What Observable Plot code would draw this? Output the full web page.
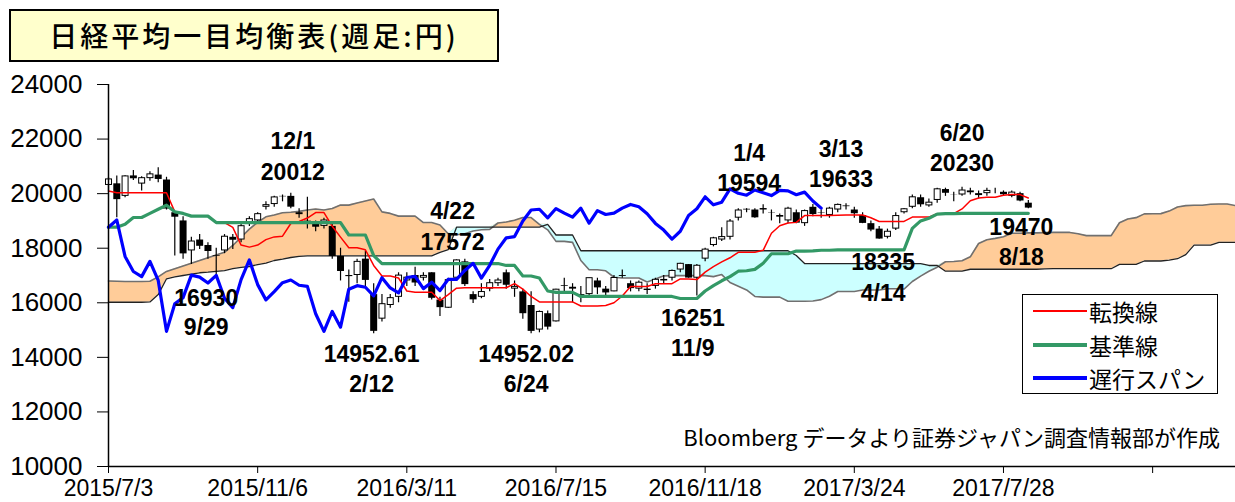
<!DOCTYPE html>
<html><head><meta charset="utf-8">
<script src="https://cdn.jsdelivr.net/npm/d3@7"></script>
<script src="https://cdn.jsdelivr.net/npm/@observablehq/plot@0.6"></script>
<style>
html,body{margin:0;padding:0;background:#fff;}
#wrap{position:relative;width:1235px;height:502px;overflow:hidden;}
#title{position:absolute;left:9px;top:9px;width:490px;height:53px;box-sizing:border-box;border:2px solid #000;background:#ffffcc;
 font-family:"Noto Sans CJK JP",sans-serif;font-weight:500;font-size:28px;line-height:48px;text-align:center;letter-spacing:3px;color:#000;}
#legend{position:absolute;left:1022px;top:294px;width:196px;height:100px;box-sizing:border-box;border:1.5px solid #000;background:#fff;
 font-family:"Noto Sans CJK JP",sans-serif;font-size:23px;color:#000;}
#legend .row{position:absolute;left:10px;height:30px;display:flex;align-items:center;}
#legend .sw{display:inline-block;width:54px;margin-right:2px;}
#caption{position:absolute;right:15px;top:422px;font-family:"Noto Sans CJK JP",sans-serif;font-size:22px;line-height:28px;color:#000;white-space:nowrap;}
</style></head>
<body>
<div id="wrap">
<div id="chart"></div>
<div id="title">日経平均一目均衡表(週足:円)</div>
<div id="legend">
 <div class="row" style="top:1px"><span class="sw" style="border-top:2px solid #ff0000"></span>転換線</div>
 <div class="row" style="top:35px"><span class="sw" style="border-top:4px solid #339966"></span>基準線</div>
 <div class="row" style="top:68px"><span class="sw" style="border-top:4px solid #0000ff"></span>遅行スパン</div>
</div>
<div id="caption">Bloomberg データより証券ジャパン調査情報部が作成</div>
</div>
<script>
// ---- weekly candles (week ending Friday), from 2015/7/3 ----
const opens = [20300,20360,19900,20650,20350,20550,20680,20500,19300,19000,
17900,18300,18100,17700,17900,18400,18300,18900,19000,19500,
19600,19900,19900,19300,19000,18900,18800,18800,17700,17000,
17000,17600,16300,15400,15900,16200,16800,17000,16900,17100,
16100,15800,16900,17500,16300,16200,16500,16700,17100,16500,
16400,15900,15000,15600,15300,16600,16500,16300,16300,16800,
16500,16400,17000,16700,16500,16500,16600,16800,16900,17200,
17400,16900,17600,18100,18300,18400,19100,19400,19400,19400,
19300,19200,19000,19300,18900,19500,19300,19200,19400,19550,
19400,19200,18900,18700,18400,18700,19300,19500,19850,19550,
19750,20150,19950,19950,20100,20000,20000,20100,20050,19900,
20000,19650];
const highs = [20600,20650,20660,20850,20620,20800,20950,20600,19300,19150,
18400,18500,18200,18000,18500,18500,18900,19150,19300,19700,
19900,19950,20012,19450,19870,19000,19100,18950,18000,17200,
17600,17900,16700,16300,16300,17100,17100,17300,17100,17100,
16200,16900,17572,17600,16400,16700,16850,16900,17200,16800,
16500,16400,15700,15700,16500,16900,16700,16600,16900,16900,
16600,17000,17200,16800,16800,16700,16900,17000,17200,17450,
17400,17400,18000,18400,18750,19050,19450,19450,19450,19594,
19400,19250,19500,19400,19400,19600,19400,19500,19620,19633,
19500,19300,19000,18800,18700,19300,19450,19950,19950,19800,
20200,20200,20050,20230,20200,20100,20200,20200,20100,20100,
20050,19750];
const lows = [20090,19115,19850,20480,20100,20450,20400,19400,17714,17600,
17400,17950,17600,16930,17800,17950,18200,18800,18900,19400,
19500,19700,19450,19100,18700,18600,18700,17600,16800,16017,
16700,16600,14865,15300,15800,16000,16600,16600,16800,16100,
15500,15800,16800,16600,15975,16150,16400,16600,16500,16200,
15400,14864,14900,15000,15300,16400,16000,16000,16200,16300,
16200,16400,16900,16400,16400,16300,16500,16700,16800,17100,
16900,16251,17500,18050,18250,18300,19000,19300,19100,19250,
19000,18900,18900,18900,18800,19150,19100,19100,19300,19400,
19100,18900,18600,18330,18340,18650,19250,19450,19500,19500,
19650,19900,19700,19900,19950,19800,19900,20000,19900,19850,
19700,19450];
const closes = [20540,19780,20650,20545,20585,20725,20520,19436,19136,17792,
18264,18070,17880,17725,18439,18292,18825,19083,19266,19597,
19880,19884,19504,19230,18987,18769,19034,17698,17147,16959,
17518,16820,14953,15967,16188,17015,16939,16725,17003,16164,
15822,16848,17572,16666,16107,16412,16736,16835,16642,16601,
15600,14952,15682,15107,16498,16627,16569,16254,16920,16546,
16361,16926,16966,16519,16754,16450,16860,16856,17185,17446,
16905,17375,17967,18381,18426,18996,19401,19428,19114,19454,
19287,19138,19467,18918,19379,19235,19284,19469,19605,19522,
19263,18909,18665,18336,18621,19197,19446,19884,19591,19687,
20177,20013,19943,20133,20033,19929,20119,20100,19960,20056,
19730,19470];
// ---- 転換線 / 基準線 (one value per candle week) ----
const tenkan = [20100,20034,20034,20034,20034,20034,20034,20034,19332,19275,
19175,19175,19175,18940,18940,18765,18115,18040,18115,18315,
18415,18440,18906,18981,19106,19306,19306,18806,18406,18015,
18015,17944,17368,16983,16983,16908,16433,16383,16383,16383,
16083,16300,16536,16550,16550,16550,16550,16550,16550,16700,
16500,16232,16032,16032,16032,16032,16032,15882,15882,15882,
15900,16000,16250,16600,16600,16600,16700,16700,16700,16875,
16875,16850,17125,17325,17500,17650,17850,17850,17850,17922,
18547,18822,18922,18947,19197,19197,19197,19197,19210,19216,
19216,19216,19116,18981,18981,18981,18981,19140,19140,19140,
19265,19265,19270,19440,19740,19840,19865,19865,19940,19965,
19965,19840];
const kijun = [18772,18772,18876,19126,19126,19276,19426,19576,19333,19276,
19176,19176,19176,18941,18941,18941,18941,18941,18941,18941,
18941,18941,18941,18941,18941,18941,18941,18941,18941,18484,
18484,18484,17732,17438,17438,17438,17438,17438,17438,17438,
17438,17438,17438,17438,17438,17438,17438,17438,17368,17368,
16983,16982,16907,16432,16382,16382,16382,16232,16232,16232,
16232,16232,16232,16232,16232,16232,16232,16232,16232,16157,
16157,16157,16432,16632,16807,16957,17157,17175,17225,17447,
17797,17797,17797,17897,17897,17900,17926,17926,17936,17942,
17942,17942,17942,17942,17942,17942,17942,18725,19000,19100,
19250,19265,19265,19280,19280,19280,19280,19280,19280,19280,
19280,19280];
// ---- 先行スパン1 / 先行スパン2 (137 weeks, through 2018/2/9) ----
const spanA = [16800,16790,16780,16780,16780,16790,16950,17150,17250,17350,
17450,17550,17650,17750,17850,18100,18400,18700,18950,19150,
19220,19300,19320,19350,19400,19436,19403,19455,19580,19580,
19655,19730,19805,19333,19276,19176,19176,19176,18941,18941,
18853,18528,18491,18528,18628,18678,18691,18924,18961,19024,
19124,19124,18874,18674,18250,18250,18214,17550,17211,17211,
17173,16936,16911,16911,16911,16761,16869,16987,16994,16994,
16994,16994,16994,16959,17034,16742,16607,16470,16232,16207,
16207,16207,16057,16057,16057,16066,16116,16241,16416,16416,
16416,16466,16466,16466,16516,16516,16504,16779,16979,17154,
17304,17504,17513,17538,17685,18172,18310,18360,18422,18547,
18549,18562,18562,18573,18579,18579,18579,18529,18462,18462,
18462,18462,18933,19070,19120,19258,19265,19268,19360,19510,
19560,19573,19573,19610,19623,19623,19560];
const spanB = [16020,16020,16020,16020,16020,16030,16300,16880,16950,17000,
17050,17100,17120,17150,17180,17250,17300,17330,17400,17450,
17550,17600,17660,17700,17720,17720,17720,17720,17720,17720,
17720,17720,17720,17720,17720,17720,17720,17720,17720,17720,
17850,17950,18772,18772,18772,18772,18772,18772,18772,18772,
18772,18772,18772,18876,18485,18485,18485,17908,17908,17908,
17908,17908,17908,17908,17908,17908,17908,17908,17908,17908,
17908,17908,17908,17908,17908,17908,17908,17908,17908,17908,
17908,17908,17908,17732,17438,17438,17438,17438,17438,17438,
17438,17438,17438,17438,17438,17438,17438,17438,17438,17367,
17367,17157,17157,17157,17229,17229,17229,17229,17229,17229,
17229,17229,17229,17242,17249,17249,17249,17249,17249,17249,
17249,17249,17407,17407,17407,17532,17532,17532,17565,17615,
17765,18115,18115,18115,18215,18215,18215];
// ---- axis ticks ----
const yTicks = [10000,12000,14000,16000,18000,20000,22000,24000];
const xTickWeeks = [0,18,36,54,72,90,108,126];
const xTickLabels = ["2015/7/3","2015/11/6","2016/3/11","2016/7/15","2016/11/18","2017/3/24","2017/7/28",""];
// ---- annotations: candle week, value, two text lines ----
const noteWeek = [22,13,32,51,42,71,79,89,93,103,111];
const noteValue = [20012,16930,14953,14952,17572,16251,19594,19633,18335,20230,19470];
const noteLine1 = ["12/1","16930","14952.61","14952.02","4/22","16251","1/4","3/13","18335","6/20","19470"];
const noteLine2 = ["20012","9/29","2/12","6/24","17572","11/9","19594","19633","4/14","20230","8/18"];
// label placement (px offsets from the anchor: dx, dy of first line, dy of second line)
const noteOffset = [[2,-52,-21],[-10,21,50],[-2,23,53],[-5,23,53],[-4,-48,-17],[-4,23,53],[-14,-51,-21],[-5,-54,-24],[4,24,55],[0,-54,-24],[-7,20,50]];

const W = d3.range(spanA.length).map(i => new Date(Date.UTC(2015, 6, 3 + 7 * i)));
const candles = opens.map((o, i) => ({date: W[i], o, h: highs[i], l: lows[i], c: closes[i]}));
const upBig = candles.filter(d => d.c > d.o && d.c - d.o > 80);
const cloud = spanA.map((a, i) => ({date: W[i], a, b: spanB[i]}));
const tenkanD = tenkan.map((v, i) => ({date: W[i], v}));
const kijunD = kijun.map((v, i) => ({date: W[i], v}));
const chikouD = closes.slice(25).map((v, k) => ({date: W[k], v}));
const tickMap = new Map(xTickWeeks.map((w, k) => [+W[w], xTickLabels[k]]));

const noteMarks = [];
noteWeek.forEach((w, k) => {
  const [dx, dy1, dy2] = noteOffset[k];
  const d = [{date: W[w], v: noteValue[k]}];
  noteMarks.push(Plot.text(d, {x: "date", y: "v", text: () => noteLine1[k], dx, dy: dy1, fontSize: 23, fontWeight: "bold", fill: "#000", textAnchor: "middle", lineAnchor: "middle"}));
  noteMarks.push(Plot.text(d, {x: "date", y: "v", text: () => noteLine2[k], dx, dy: dy2, fontSize: 23, fontWeight: "bold", fill: "#000", textAnchor: "middle", lineAnchor: "middle"}));
});

const chart = Plot.plot({
  width: 1235, height: 502,
  marginTop: 84, marginBottom: 36, marginLeft: 108, marginRight: 0,
  style: {fontFamily: "'Liberation Sans', Arial, sans-serif", background: "transparent", color: "#000"},
  x: {type: "utc", domain: [W[0], W[W.length - 1]]},
  y: {domain: [10000, 24000]},
  marks: [
    Plot.areaY(cloud, {x: "date", y1: "b", y2: d => Math.max(d.a, d.b), fill: "#FFCC99"}),
    Plot.areaY(cloud, {x: "date", y1: "a", y2: d => Math.max(d.a, d.b), fill: "#CCFFFF"}),
    Plot.line(cloud, {x: "date", y: "a", stroke: "#707070", strokeWidth: 1.6}),
    Plot.line(cloud, {x: "date", y: "b", stroke: "#222", strokeWidth: 1.3}),
    Plot.ruleX(candles, {x: "date", y1: "l", y2: "h", stroke: "#000", strokeWidth: 1.2}),
    Plot.ruleX(candles, {x: "date", y1: d => Math.max(d.o, d.c), y2: d => Math.min(d.o, d.c), stroke: "#000", strokeWidth: 7}),
    Plot.ruleX(upBig, {x: "date", y1: "c", y2: "o", stroke: "#fff", strokeWidth: 5, insetTop: 1, insetBottom: 1}),
    Plot.line(tenkanD, {x: "date", y: "v", stroke: "#FF0000", strokeWidth: 1.5}),
    Plot.line(kijunD, {x: "date", y: "v", stroke: "#339966", strokeWidth: 3.2}),
    Plot.line(chikouD, {x: "date", y: "v", stroke: "#0000FF", strokeWidth: 3.2}),
    ...noteMarks,
    Plot.axisY({ticks: yTicks, tickSize: 11, tickPadding: 15, fontSize: 26, tickFormat: d3.format("d"), label: null}),
    Plot.axisX({ticks: xTickWeeks.map(w => W[w]), tickSize: 7, tickPadding: 6, fontSize: 23, tickFormat: d => tickMap.get(+d) ?? "", label: null}),
    Plot.ruleY([10000], {stroke: "#000", strokeWidth: 1.5}),
    Plot.ruleX([W[0]], {stroke: "#000", strokeWidth: 1.5})
  ]
});
document.getElementById("chart").appendChild(chart);
</script>
</body></html>
